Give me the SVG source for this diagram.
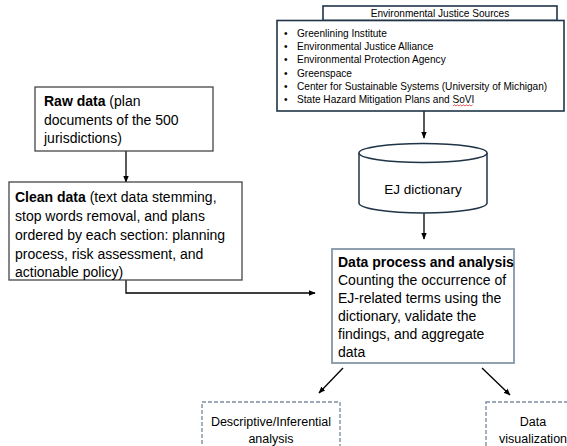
<svg xmlns="http://www.w3.org/2000/svg" width="567" height="446" viewBox="0 0 567 446">
<defs>
<style>
text{font-family:"Liberation Sans",Arial,sans-serif;fill:#000}
.body{font-size:14px}
.small{font-size:10.1px}
.b{font-weight:bold}
.navy{fill:#fff;stroke:#1f3447;stroke-width:1.6}
.gray{fill:#fff;stroke:#454545;stroke-width:1.3}
.blue{fill:#fff;stroke:#8496a8;stroke-width:1.8}
.dash{fill:#fff;stroke:#7f8fa0;stroke-width:1.4;stroke-dasharray:4 2}
.conn{fill:none;stroke:#000;stroke-width:1.3}
.lbl{font-size:12.5px}
</style>
<marker id="ah" viewBox="0 0 10 10" refX="9" refY="5" markerWidth="7" markerHeight="7" orient="auto" markerUnits="userSpaceOnUse">
<path d="M0,1 L10,5 L0,9 z" fill="#000"/>
</marker>
</defs>
<rect width="567" height="446" fill="#fff"/>

<g id="connectors">
<line class="conn" x1="424" y1="111" x2="424" y2="138" marker-end="url(#ah)"/>
<line class="conn" x1="424" y1="213" x2="424" y2="239" marker-end="url(#ah)"/>
<line class="conn" x1="126" y1="151" x2="126" y2="182" marker-end="url(#ah)"/>
<path class="conn" d="M126,280 V293 H315" marker-end="url(#ah)"/>
<line class="conn" x1="343" y1="368" x2="319" y2="393" marker-end="url(#ah)"/>
<line class="conn" x1="482" y1="368" x2="510" y2="395" marker-end="url(#ah)"/>
</g>

<g id="ej-sources">
<rect class="navy" x="323" y="6" width="234" height="14.5"/>
<text class="small" x="440" y="17" text-anchor="middle">Environmental Justice Sources</text>
<rect class="navy" x="277" y="20.5" width="287" height="90.5"/>
<g class="small">
<text x="284" y="36.6">•</text>
<text x="297" y="36.6">Greenlining Institute</text>
<text x="284" y="49.9">•</text>
<text x="297" y="49.9">Environmental Justice Alliance</text>
<text x="284" y="63.2">•</text>
<text x="297" y="63.2">Environmental Protection Agency</text>
<text x="284" y="76.5">•</text>
<text x="297" y="76.5">Greenspace</text>
<text x="284" y="89.8">•</text>
<text x="297" y="89.8">Center for Sustainable Systems (University of Michigan)</text>
<text x="284" y="103.1">•</text>
<text x="297" y="103.1">State Hazard Mitigation Plans and SoVI</text>
</g>
<path d="M453,106 l1.5,-1.2 l1.5,1.2 l1.5,-1.2 l1.5,1.2 l1.5,-1.2 l1.5,1.2 l1.5,-1.2 l1.5,1.2 l1.5,-1.2 l1.5,1.2 l1.5,-1.2 l1.5,1.2 l1.5,-1.2" fill="none" stroke="#e03030" stroke-width="0.8"/>
</g>

<g id="ej-dictionary">
<path d="M359,153 V203 A64,10 0 0 0 487,203 V153" fill="#fff" stroke="#1f3447" stroke-width="1.5"/>
<ellipse cx="423" cy="153" rx="64" ry="9.5" fill="#fff" stroke="#1f3447" stroke-width="1.5"/>
<text x="423" y="194" text-anchor="middle" style="font-size:13.5px">EJ dictionary</text>
</g>

<g id="raw-data">
<rect class="gray" x="35" y="87" width="178" height="64"/>
<text class="body" x="44" y="106"><tspan class="b">Raw data</tspan> (plan</text>
<text class="body" x="44" y="124.5">documents of the 500</text>
<text class="body" x="44" y="143">jurisdictions)</text>
</g>

<g id="clean-data">
<rect class="gray" x="9" y="182" width="233" height="98"/>
<text class="body" x="15" y="202"><tspan class="b">Clean data</tspan> (text data stemming,</text>
<text class="body" x="15" y="221">stop words removal, and plans</text>
<text class="body" x="15" y="240">ordered by each section: planning</text>
<text class="body" x="15" y="258.5">process, risk assessment, and</text>
<text class="body" x="15" y="277">actionable policy)</text>
</g>

<g id="data-process">
<rect class="blue" x="332" y="249" width="182" height="114"/>
<text class="body b" x="338" y="267">Data process and analysis</text>
<text class="body" x="338" y="285">Counting the occurrence of</text>
<text class="body" x="338" y="303">EJ-related terms using the</text>
<text class="body" x="338" y="321">dictionary, validate the</text>
<text class="body" x="338" y="339">findings, and aggregate</text>
<text class="body" x="338" y="357">data</text>
</g>

<g id="descriptive">
<rect class="dash" x="202" y="402" width="138" height="60"/>
<text class="lbl" x="271" y="425.5" text-anchor="middle">Descriptive/Inferential</text>
<text class="lbl" x="271" y="443" text-anchor="middle">analysis</text>
</g>

<g id="visualization">
<rect class="dash" x="486" y="402" width="100" height="60"/>
<text class="lbl" x="533" y="425.5" text-anchor="middle">Data</text>
<text class="lbl" x="533" y="443" text-anchor="middle">visualization</text>
</g>
</svg>
